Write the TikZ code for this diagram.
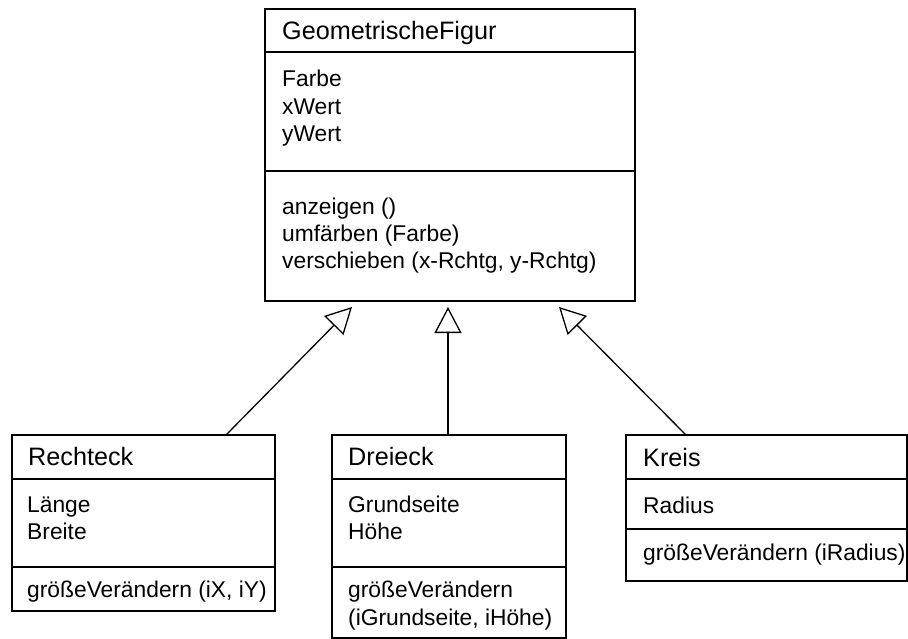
\documentclass[tikz,border=0pt]{standalone}
\usepackage{fontspec}
\setmainfont{Liberation Sans}
\usetikzlibrary{arrows.meta}
\begin{document}
\begin{tikzpicture}[x=1pt,y=-1pt,
  classbox/.style={draw=black, line width=1.6pt, inner sep=0pt, outer sep=0pt, anchor=north west},
  divider/.style={draw=black, line width=1.2pt},
  title/.style={anchor=base west, inner sep=0pt, font=\fontsize{25.2}{30}\selectfont},
  entry/.style={anchor=base west, inner sep=0pt, font=\fontsize{22.8}{27.5}\selectfont},
  inherit/.style={draw=black, line width=1.3pt,
    -{Triangle[open, length=26pt, width=27pt, line width=1.3pt]}}
]
\useasboundingbox (0,0) rectangle (908,639);

% superclass
\node[classbox, minimum width=370pt, minimum height=292pt] (fig) at (265,9) {};
\draw[divider] ([yshift=-43pt]fig.north west) -- ([yshift=-43pt]fig.north east);
\draw[divider] ([yshift=-162pt]fig.north west) -- ([yshift=-162pt]fig.north east);
\node[title] (figname) at (282,40) {GeometrischeFigur};
\node[entry] (figa1) at (282,87) {Farbe};
\node[entry] (figa2) at (282,115) {xWert};
\node[entry] (figa3) at (282,142) {yWert};
\node[entry] (figm1) at (282,215) {anzeigen ()};
\node[entry] (figm2) at (282,242) {umfärben (Farbe)};
\node[entry] (figm3) at (282,269) {verschieben (x-Rchtg, y-Rchtg)};

% Rechteck
\node[classbox, minimum width=263pt, minimum height=176pt] (rech) at (12,435) {};
\draw[divider] ([yshift=-44pt]rech.north west) -- ([yshift=-44pt]rech.north east);
\draw[divider] ([yshift=-132pt]rech.north west) -- ([yshift=-132pt]rech.north east);
\node[title] (rechname) at (28,465) {Rechteck};
\node[entry] (recha1) at (27,512) {Länge};
\node[entry] (recha2) at (27,539) {Breite};
\node[entry] (rechm1) at (27,597) {größeVerändern (iX, iY)};

% Dreieck
\node[classbox, minimum width=234pt, minimum height=203pt] (drei) at (332,435) {};
\draw[divider] ([yshift=-44pt]drei.north west) -- ([yshift=-44pt]drei.north east);
\draw[divider] ([yshift=-132pt]drei.north west) -- ([yshift=-132pt]drei.north east);
\node[title] (dreiname) at (348,465) {Dreieck};
\node[entry] (dreia1) at (348,512) {Grundseite};
\node[entry] (dreia2) at (348,539) {Höhe};
\node[entry] (dreim1) at (348,597) {größeVerändern};
\node[entry] (dreim2) at (348,625) {(iGrundseite, iHöhe)};

% Kreis
\node[classbox, minimum width=281pt, minimum height=146pt] (kreis) at (626,435) {};
\draw[divider] ([yshift=-44pt]kreis.north west) -- ([yshift=-44pt]kreis.north east);
\draw[divider] ([yshift=-94pt]kreis.north west) -- ([yshift=-94pt]kreis.north east);
\node[title] (kreisname) at (643,466) {Kreis};
\node[entry] (kreisa1) at (643,513) {Radius};
\node[entry] (kreism1) at (643,560) {größeVerändern (iRadius)};

% generalisations
\draw[inherit] ([xshift=82.5pt]rech.north) -- ([xshift=-98pt,yshift=-6pt]fig.south);
\draw[inherit] ([xshift=-1pt]drei.north) -- ([xshift=-2pt,yshift=-6pt]fig.south);
\draw[inherit] ([xshift=-80.5pt]kreis.north) -- ([xshift=109pt,yshift=-6pt]fig.south);
\end{tikzpicture}
\end{document}
